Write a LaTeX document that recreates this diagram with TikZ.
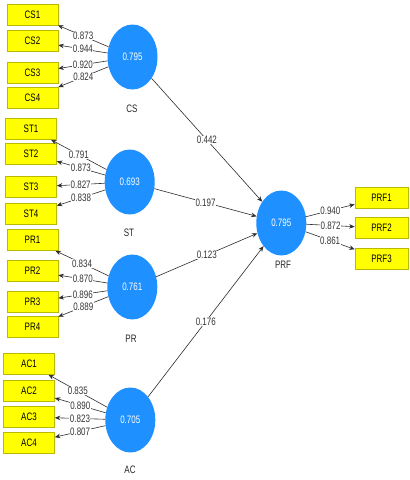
\documentclass[tikz,border=0pt]{standalone}
\usepackage{fontspec}
\setmainfont[FakeStretch=0.74]{Liberation Sans}
\usetikzlibrary{shapes.geometric,arrows.meta}
\definecolor{lvblue}{RGB}{30,144,255}
\definecolor{mvyellow}{RGB}{255,255,0}
\definecolor{mvedge}{RGB}{185,185,0}
\definecolor{linegray}{RGB}{45,45,45}
\begin{document}
\begin{tikzpicture}[x=1pt,y=-1pt,
  txt/.style={font=\fontsize{10.8}{12}\selectfont},
  lv/.style={txt, ellipse, fill=lvblue, minimum width=50pt, minimum height=65pt, inner sep=0pt, text=white},
  mv/.style={txt, rectangle, draw=mvedge, fill=mvyellow, line width=0.6pt, minimum width=51pt, minimum height=21pt, inner sep=0pt},
  lvname/.style={txt, text=black!85},
  coef/.style={txt, fill=white, inner sep=0.5pt, text=black!80},
  ld/.style={draw=linegray, line width=0.6pt, -{Stealth[length=5.5pt,width=4.5pt]}},
]
\useasboundingbox[fill=white] (0,0) rectangle (410,480);

% latent variables
\node[lv] (CS)  at (132.5,57)  {0.795};
\node[lv] (ST)  at (129.7,182) {0.693};
\node[lv] (PR)  at (132.3,287) {0.761};
\node[lv] (AC)  at (130.3,420) {0.705};
\node[lv] (PRF) at (281.3,223) {0.795};

\node[lvname] (CSn)  at (132,109) {CS};
\node[lvname] (STn)  at (129,233) {ST};
\node[lvname] (PRn)  at (131,339) {PR};
\node[lvname] (ACn)  at (130,470) {AC};
\node[lvname] (PRFn) at (283,265) {PRF};

% indicators
\node[mv] (CS1) at (32.5,14.5) {CS1};
\node[mv] (CS2) at (32.5,41)   {CS2};
\node[mv] (CS3) at (32.5,72.5) {CS3};
\node[mv] (CS4) at (32.5,97.5) {CS4};

\node[mv] (ST1) at (31,129) {ST1};
\node[mv] (ST2) at (31,154) {ST2};
\node[mv] (ST3) at (31,187) {ST3};
\node[mv] (ST4) at (31,214) {ST4};

\node[mv] (PR1) at (32.5,240) {PR1};
\node[mv] (PR2) at (32.5,271) {PR2};
\node[mv] (PR3) at (32.5,302) {PR3};
\node[mv] (PR4) at (32.5,327) {PR4};

\node[mv] (AC1) at (29,364)   {AC1};
\node[mv] (AC2) at (29,390.5) {AC2};
\node[mv] (AC3) at (29,417)   {AC3};
\node[mv] (AC4) at (29,443)   {AC4};

\node[mv, minimum width=53pt] (PRF1) at (381.5,197.5) {PRF1};
\node[mv, minimum width=53pt] (PRF2) at (381.5,228)   {PRF2};
\node[mv, minimum width=53pt] (PRF3) at (381.5,259)   {PRF3};

% outer loadings
\draw[ld] (CS) -- node[coef]{0.873} (CS1);
\draw[ld] (CS) -- node[coef]{0.944} (CS2);
\draw[ld] (CS) -- node[coef]{0.920} (CS3);
\draw[ld] (CS) -- node[coef]{0.824} (CS4);

\draw[ld] (ST) -- node[coef]{0.791} (ST1);
\draw[ld] (ST) -- node[coef]{0.873} (ST2);
\draw[ld] (ST) -- node[coef]{0.827} (ST3);
\draw[ld] (ST) -- node[coef]{0.838} (ST4);

\draw[ld] (PR) -- node[coef]{0.834} (PR1);
\draw[ld] (PR) -- node[coef]{0.870} (PR2);
\draw[ld] (PR) -- node[coef]{0.896} (PR3);
\draw[ld] (PR) -- node[coef]{0.889} (PR4);

\draw[ld] (AC) -- node[coef]{0.835} (AC1);
\draw[ld] (AC) -- node[coef]{0.890} (AC2);
\draw[ld] (AC) -- node[coef]{0.823} (AC3);
\draw[ld] (AC) -- node[coef]{0.807} (AC4);

\draw[ld] (PRF) -- node[coef]{0.940} (PRF1);
\draw[ld] (PRF) -- node[coef]{0.872} (PRF2);
\draw[ld] (PRF) -- node[coef]{0.861} (PRF3);

% structural paths
\draw[ld] (CS) -- node[coef]{0.442} (PRF);
\draw[ld] (ST) -- node[coef]{0.197} (PRF);
\draw[ld] (PR) -- node[coef]{0.123} (PRF);
\draw[ld] (AC) -- node[coef]{0.176} (PRF);
\end{tikzpicture}
\end{document}
